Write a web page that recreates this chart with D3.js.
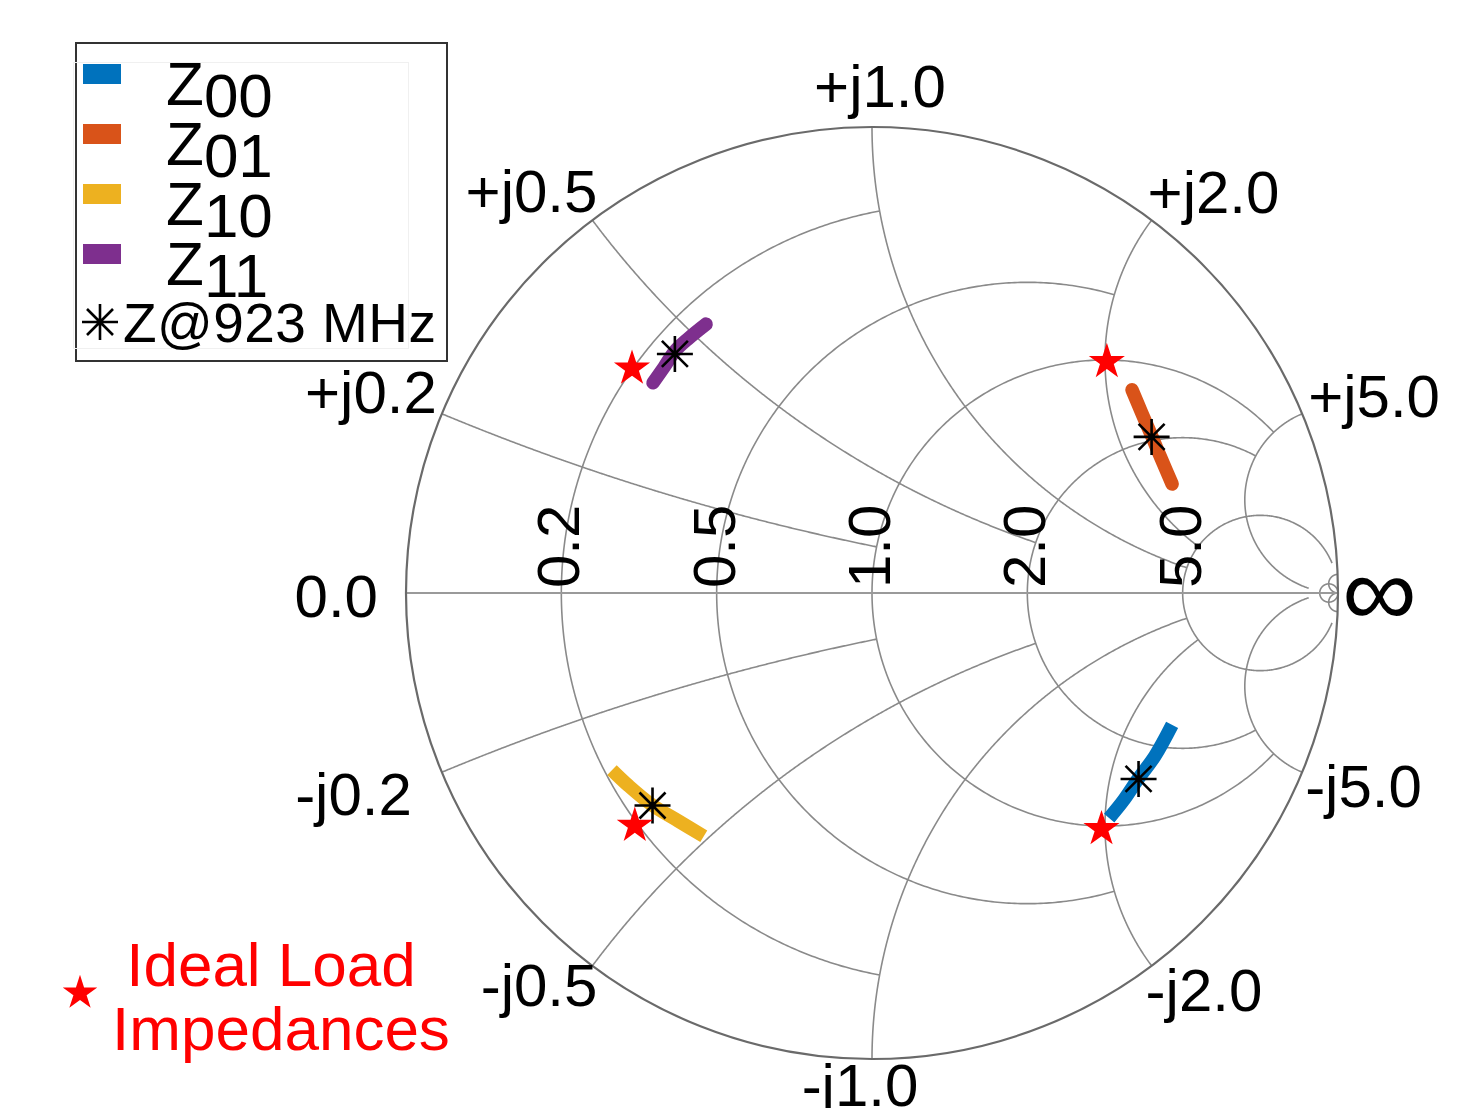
<!DOCTYPE html>
<html><head><meta charset="utf-8">
<script src="https://cdn.jsdelivr.net/npm/d3@7"></script>
<style>html,body{margin:0;padding:0;background:#fff;} svg{display:block;}</style>
</head><body>
<svg id="chart" width="1464" height="1108"></svg>
<script>
// ---------------- data (reflection coefficient Γ = [re, im]) ----------------
const seriesNames = ["00", "01", "10", "11"];
const z00 = [[0.509,-0.483],[0.539,-0.446],[0.571,-0.399],[0.607,-0.350],[0.644,-0.283]];
const z01 = [[0.558,0.436],[0.579,0.386],[0.601,0.335],[0.622,0.285],[0.644,0.234]];
const z10 = [[-0.558,-0.380],[-0.522,-0.414],[-0.472,-0.455],[-0.416,-0.489],[-0.361,-0.522]];
const z11 = [[-0.470,0.451],[-0.446,0.485],[-0.423,0.519],[-0.393,0.547],[-0.356,0.577]];
const at923MHz = [[0.572,-0.399],[0.600,0.335],[-0.471,-0.456],[-0.423,0.513]];
const idealLoads = [[0.4925,-0.5064],[0.504,0.496],[-0.509,-0.499],[-0.515,0.482]];
// Smith grid values: circle values and the value where each is clipped
const gridR = [0.2, 0.5, 1, 2, 5];
const gridRLimit = [1, 2, 5, 5, 30];
const gridX = [0.2, 0.5, 1, 2, 5];
const gridXLimit = [1, 2, 5, 5, 30];
const rTickLabels = ["0.2", "0.5", "1.0", "2.0", "5.0"];
const xTickLabels = ["0.2", "0.5", "1.0", "2.0", "5.0"];
const markerLabel = "Z@923 MHz";
const idealLabel = ["Ideal Load", "Impedances"];

// ---------------- styles / layout ----------------
const colors = ["#0072BD", "#D95319", "#EDB120", "#7E2F8E"];
const caps = ["butt", "round", "butt", "round"];
const FONT = "'Liberation Sans', Arial, Helvetica, sans-serif";
const cx = 872, cy = 593, R = 466;
const sx = d3.scaleLinear().domain([-1, 1]).range([cx - R, cx + R]);
const sy = d3.scaleLinear().domain([-1, 1]).range([cy + R, cy - R]);
const svg = d3.select("#chart");
const line = d3.line().x(d => sx(d[0])).y(d => sy(d[1]));

function gamma(r, x) {
  const den = (r + 1) * (r + 1) + x * x;
  return [(r * r - 1 + x * x) / den, (2 * x) / den];
}
function arcPts(c, a, t0, t1, n) {
  return d3.range(n + 1).map(i => {
    const t = t0 + (t1 - t0) * i / n;
    return [c[0] + a * Math.cos(t), c[1] + a * Math.sin(t)];
  });
}
function rCircle(r, xl) {
  const c = [r / (1 + r), 0], a = 1 / (1 + r);
  let t0 = 0;
  if (isFinite(xl)) { const e = gamma(r, xl); t0 = Math.atan2(e[1], e[0] - c[0]); }
  return arcPts(c, a, t0, 2 * Math.PI - t0, 400);
}
function xArc(x, rl) {
  const s = Math.sign(x), ax = Math.abs(x);
  const c = [1, 1 / ax], a = 1 / ax;
  const norm = t => (t < 0 ? t + 2 * Math.PI : t);
  const g0 = gamma(0, ax);
  const t0 = norm(Math.atan2(g0[1] - c[1], g0[0] - c[0]));
  let t1 = 1.5 * Math.PI;
  if (isFinite(rl)) { const e = gamma(rl, ax); t1 = norm(Math.atan2(e[1] - c[1], e[0] - c[0])); }
  return arcPts(c, a, t0, t1, 400).map(p => [p[0], s * p[1]]);
}

const grid = svg.append("g").attr("fill", "none").attr("stroke", "#8a8a8a").attr("stroke-width", 1.6);
gridR.forEach((r, i) => grid.append("path").attr("d", line(rCircle(r, gridRLimit[i]))));
gridX.forEach((x, i) => {
  grid.append("path").attr("d", line(xArc(x, gridXLimit[i])));
  grid.append("path").attr("d", line(xArc(-x, gridXLimit[i])));
});
// tiny circles near the open-circuit point
grid.append("path").attr("d", line(rCircle(50, Infinity)));
grid.append("path").attr("d", line(xArc(50, Infinity)));
grid.append("path").attr("d", line(xArc(-50, Infinity)));
// real axis
grid.append("path").attr("d", line([[-1, 0], [1, 0]])).attr("stroke", "#9a9a9a").attr("stroke-width", 2.2);
// outer circle
svg.append("circle").attr("cx", sx(0)).attr("cy", sy(0)).attr("r", sx(1) - sx(0))
  .attr("fill", "none").attr("stroke", "#6a6a6a").attr("stroke-width", 2.2);

// ---------------- tick labels ----------------
const lab = svg.append("g").attr("font-family", FONT).attr("font-size", 60).attr("fill", "#000");
// resistance labels (rotated)
gridR.forEach((r, i) => {
  const px = sx((r - 1) / (r + 1)) + 18, py = cy - 5;
  lab.append("text").attr("transform", `translate(${px},${py}) rotate(-90)`)
    .attr("text-anchor", "start").text(rTickLabels[i]);
});
// reactance labels: offsets (dx, baseline dy, anchor) relative to the rim point
const xLabelStyle = {
  "+0.2": [-5, -1, "end"], "+0.5": [5, -8, "end"], "+1.0": [8, -20, "middle"], "+2.0": [-4, -7, "start"], "+5.0": [6, 3, "start"],
  "-0.2": [-30, 43, "end"], "-0.5": [5, 40, "end"], "-1.0": [-12, 47, "middle"], "-2.0": [-6, 45, "start"], "-5.0": [3, 35, "start"]
};
gridX.forEach((x, i) => {
  [1, -1].forEach(s => {
    const g = gamma(0, s * x);
    const key = (s > 0 ? "+" : "-") + xTickLabels[i];
    const st = xLabelStyle[key];
    lab.append("text").attr("x", sx(g[0]) + st[0]).attr("y", sy(g[1]) + st[1])
      .attr("text-anchor", st[2]).text((s > 0 ? "+j" : "-j") + xTickLabels[i]);
  });
});
lab.append("text").attr("x", sx(-1) - 28).attr("y", cy + 24).attr("text-anchor", "end").text("0.0");
lab.append("text").attr("transform", `translate(${sx(1) + 4},${cy + 33}) scale(1.05,1)`)
  .attr("font-size", 100).attr("text-anchor", "start").text("∞");

// ---------------- data traces ----------------
const traces = [z00, z01, z10, z11];
const tg = svg.append("g");
traces.forEach((d, i) => {
  tg.append("path").attr("d", line.curve(d3.curveCatmullRom)(d)).attr("fill", "none")
    .attr("stroke", colors[i]).attr("stroke-width", 13.5).attr("stroke-linecap", caps[i]).attr("stroke-linejoin", "round");
});
line.curve(d3.curveLinear);

const asterisk = "M-18,0H18M0,-18V18M-13,-13L13,13M-13,13L13,-13";
svg.append("g").selectAll("path").data(at923MHz).join("path")
  .attr("transform", d => `translate(${sx(d[0])},${sy(d[1])})`).attr("d", asterisk)
  .attr("fill", "none").attr("stroke", "#000").attr("stroke-width", 2.6);

const star = d3.symbol().type(d3.symbolStar).size(405);
svg.append("g").selectAll("path").data(idealLoads).join("path")
  .attr("transform", d => `translate(${sx(d[0])},${sy(d[1])})`).attr("d", star).attr("fill", "#FF0000");

// ---------------- legend ----------------
const lg = svg.append("g").attr("font-family", FONT);
lg.append("rect").attr("x", 76).attr("y", 43).attr("width", 371).attr("height", 318)
  .attr("fill", "#fff").attr("stroke", "#333").attr("stroke-width", 2);
lg.append("rect").attr("x", 73.5).attr("y", 62.5).attr("width", 335).attr("height", 286)
  .attr("fill", "none").attr("stroke", "#f0f0f0").attr("stroke-width", 1);
seriesNames.forEach((n, i) => {
  const y0 = 105 + i * 60;
  lg.append("rect").attr("x", 83).attr("y", y0 - 41).attr("width", 38).attr("height", 20).attr("fill", colors[i]);
  const t = lg.append("text").attr("x", 166).attr("y", y0).attr("font-size", 62);
  t.append("tspan").text("Z");
  t.append("tspan").attr("dy", 12).text(n);
});
lg.append("path").attr("transform", "translate(100,322)").attr("d", asterisk)
  .attr("fill", "none").attr("stroke", "#000").attr("stroke-width", 2.6);
lg.append("text").attr("x", 123).attr("y", 342).attr("font-size", 55).attr("textLength", 313).text(markerLabel);

// ideal load annotation
const ann = svg.append("g").attr("font-family", FONT).attr("font-size", 62).attr("fill", "#FF0000");
ann.append("path").attr("transform", "translate(80,993)").attr("d", d3.symbol().type(d3.symbolStar).size(370)).attr("fill", "#FF0000");
ann.append("text").attr("x", 271).attr("y", 986).attr("text-anchor", "middle").text(idealLabel[0]);
ann.append("text").attr("x", 281).attr("y", 1050).attr("text-anchor", "middle").text(idealLabel[1]);
</script>
</body></html>
